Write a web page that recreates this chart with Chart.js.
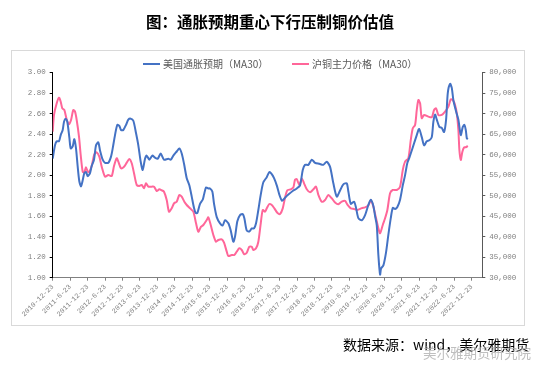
<!DOCTYPE html>
<html><head><meta charset="utf-8">
<script src="https://cdn.jsdelivr.net/npm/chart.js@4.4.0/dist/chart.umd.min.js"></script>
<style>
html,body{margin:0;padding:0;background:#fff;}
#wrap{position:relative;width:545px;height:379px;overflow:hidden;}
#title{position:absolute;left:0;width:540px;top:10px;text-align:center;font-family:"Noto Sans CJK SC";font-weight:bold;font-size:15.5px;color:#000;line-height:22px;}
#frame{position:absolute;left:11px;top:50px;width:514px;height:276px;border:1px solid #d9d9d9;box-sizing:border-box;}
canvas{position:absolute;left:0;top:0;}
.lg{position:absolute;top:57px;font-family:"Noto Sans CJK SC";font-size:10px;color:#595959;line-height:14px;white-space:nowrap;}
.lg i{display:inline-block;width:17px;height:2px;vertical-align:middle;margin-right:3px;position:relative;top:-1px;}
#src{position:absolute;left:343px;top:334px;font-family:"Noto Sans CJK SC";font-size:14px;color:#000;line-height:20px;white-space:nowrap;}
#wm{position:absolute;left:423px;top:343px;font-family:"Noto Sans CJK SC";font-size:13.5px;color:rgba(170,170,170,0.75);line-height:18px;white-space:nowrap;}
</style></head>
<body><div id="wrap">
<div id="frame"></div>
<canvas id="c" width="545" height="379"></canvas>
<div id="title">图：通胀预期重心下行压制铜价估值</div>
<div class="lg" id="lg1" style="left:143px"><i></i><span></span></div>
<div class="lg" id="lg2" style="left:292px"><i></i><span></span></div>
<div id="src">数据来源：wind，美尔雅期货</div>
<div id="wm">美尔雅期货研究院</div>
</div>
<script>
const tickLabels = ['2010-12-23','2011-6-23','2011-12-23','2012-6-23','2012-12-23','2013-6-23','2013-12-23','2014-6-23','2014-12-23','2015-6-23','2015-12-23','2016-6-23','2016-12-23','2017-6-23','2017-12-23','2018-6-23','2018-12-23','2019-6-23','2019-12-23','2020-6-23','2020-12-23','2021-6-23','2021-12-23','2022-6-23','2022-12-23'];
const seriesNames = ['美国通胀预期（MA30）','沪铜主力价格（MA30）'];
// months elapsed since 2010-12-23
const blueMonths = [0,0.79,1.38,2.17,2.75,3.44,3.89,4.47,5.02,5.71,6.19,6.88,7.43,8.01,8.6,9.15,9.73,10.32,10.87,11.45,12.04,12.83,13.41,14.2,14.89,15.68,16.27,17.19,17.99,19.12,20.05,20.63,21.42,22.21,22.9,23.49,24.28,25.21,26,26.82,27.72,28.64,29.44,30.26,30.95,31.74,32.32,33.22,34.25,35.18,36.11,37.14,38.27,39.75,40.58,41.47,42.64,43.54,44.36,45.15,46.08,46.97,47.8,48.59,49.17,49.72,50.65,51.58,52.03,52.72,53.51,54.09,54.88,55.47,56.4,57.53,58.46,59.25,60.39,61.21,62.11,62.69,63.48,64.41,65.34,65.89,66.71,67.61,68.43,69.22,69.91,70.7,71.53,72.42,73.59,74.48,75.31,76.1,77.03,77.92,78.85,79.88,81.02,82.74,83.91,85.04,85.97,86.76,87.9,89.07,90.2,91.68,93.05,94.22,95.36,96.49,97.66,98.8,99.93,101.1,101.65,102.48,103.61,104.3,105.09,106.26,107.4,108.53,109.36,110.25,110.84,111.42,111.97,112.56,112.9,113.69,114.62,115.41,116.23,116.92,117.71,118.5,119.43,120.36,121.15,121.94,122.63,123.45,124.25,125.17,125.97,126.89,127.68,128.61,129.51,130.33,130.88,131.47,132.05,132.94,133.77,134.56,135.25,135.83,136.62,137.21,137.76,138.69,139.48,140.3,140.99,141.54,142.02,142.37,142.71];
const blueValues = [2.16,2.29,2.33,2.33,2.39,2.44,2.52,2.55,2.52,2.37,2.26,2.28,2.35,2.26,2.08,1.94,1.89,1.95,2.02,2.03,1.99,2.02,2.09,2.15,2.29,2.32,2.24,2.15,2.12,2.12,2.18,2.26,2.39,2.49,2.48,2.44,2.44,2.49,2.54,2.55,2.53,2.41,2.29,2.13,2.05,2.16,2.19,2.15,2.19,2.17,2.16,2.21,2.15,2.16,2.15,2.19,2.23,2.26,2.21,2.11,1.97,1.9,1.79,1.68,1.63,1.63,1.72,1.76,1.81,1.88,1.87,1.87,1.84,1.72,1.59,1.53,1.51,1.56,1.53,1.46,1.35,1.4,1.55,1.61,1.62,1.58,1.46,1.45,1.48,1.48,1.53,1.66,1.81,1.93,1.98,2.03,2.01,1.97,1.9,1.81,1.75,1.78,1.81,1.85,1.87,1.9,2.05,2.1,2.1,2.15,2.12,2.11,2.1,2.13,2.08,1.92,1.79,1.85,1.91,1.92,1.84,1.72,1.74,1.68,1.58,1.56,1.61,1.71,1.76,1.7,1.6,1.51,1.22,1.03,1.09,1.12,1.25,1.42,1.58,1.68,1.67,1.69,1.76,1.9,2,2.12,2.17,2.24,2.31,2.39,2.45,2.37,2.29,2.33,2.34,2.37,2.52,2.59,2.54,2.47,2.46,2.42,2.54,2.8,2.89,2.85,2.73,2.62,2.54,2.39,2.47,2.49,2.44,2.36,2.35];
const copperMonths = [0,0.45,1.38,2.17,2.75,3.3,3.99,4.81,5.61,6.3,7.08,7.67,8.25,9.04,9.63,10.32,10.87,11.45,12.04,12.59,13.41,14.31,15.13,16.03,16.85,17.99,19.12,20.29,21.08,22.01,22.56,23.49,24.52,25.45,26.34,27.17,27.96,28.89,29.78,30.61,31.4,32.08,32.88,34.04,34.84,35.76,36.66,37.48,38.27,39.2,39.99,40.92,41.71,42.64,43.54,44.36,45.26,46.08,47.22,48.35,49.28,50.07,51,51.79,52.96,53.51,54.33,55.23,56.16,56.95,58.12,58.91,59.84,60.39,61.56,62.45,63.27,64.17,64.99,65.89,66.71,67.61,68.43,68.98,69.91,70.7,71.53,72.22,73.01,73.59,74.48,75.31,76.2,77.23,78.16,79.09,79.88,80.67,81.84,82.74,83.32,83.91,84.8,85.63,86.42,87.35,88.48,89.62,90.54,91.33,92.5,93.64,94.77,95.94,97.08,98.21,99.38,100.52,101.31,102.48,103.61,104.75,106.26,107.4,108.53,109.36,110.25,111.18,111.97,112.56,113.48,114.27,115.06,115.99,116.92,118.29,119.43,120.36,121.15,122.28,123.11,123.8,124.59,125.17,125.72,126.31,126.89,127.68,129.16,130.33,131.12,131.81,132.6,133.77,134.9,136.04,136.86,137.55,138.34,138.93,139.48,139.82,140.3,140.85,141.44,142.02,142.71];
const copperValues = [65580,69650,72500,73870,72890,71280,70870,68600,67380,68430,70870,70450,68430,64360,59900,55830,55670,56900,55830,55830,57220,60070,60560,59490,57050,54610,55030,54780,57220,59100,58270,56660,57050,58030,58930,57880,55440,52590,52350,52590,51790,53000,52180,52180,52180,51130,51540,51300,50960,48940,46090,46910,48130,48520,50150,49740,48520,47720,46910,46090,43260,41210,42430,42840,44060,44720,42840,40410,38770,39190,39360,38530,36340,35290,35530,35530,36340,37160,36750,35700,36090,37550,37550,36750,37160,38770,43260,46500,46090,46910,47960,47720,46910,45840,45520,46900,49500,51300,51540,52000,53900,54000,52600,54200,53000,51540,50800,51540,52180,50200,48520,48940,50150,49350,48330,47900,48520,48700,47800,46910,46740,46500,46950,47150,47600,48850,47300,44470,42040,40820,42840,44470,46500,50570,51370,51370,52180,56250,58270,59100,63560,66410,67210,70870,73310,72500,68850,69650,69240,69090,70870,71280,69650,69650,70450,71670,73470,73310,72090,70060,66000,61120,58680,60700,61780,61780,62100];
const colors = ['#4472C4','#FF6699'];

const tickFont = {family:'Liberation Mono', size:7.5};
const chart = new Chart(document.getElementById('c'), {
  type:'line',
  data:{datasets:[
    {label:seriesNames[0], data:blueMonths.map((m,i)=>({x:m,y:blueValues[i]})), yAxisID:'y',
     borderColor:colors[0], backgroundColor:colors[0], borderWidth:2, pointRadius:0, tension:0.25, fill:false},
    {label:seriesNames[1], data:copperMonths.map((m,i)=>({x:m,y:copperValues[i]})), yAxisID:'y1',
     borderColor:colors[1], backgroundColor:colors[1], borderWidth:2, pointRadius:0, tension:0.25, fill:false}
  ]},
  options:{
    responsive:false, animation:false, devicePixelRatio:1,
    layout:{padding:{top:72.5,left:0,right:0,bottom:0}},
    plugins:{legend:{display:false}, tooltip:{enabled:false}},
    scales:{
      x:{type:'linear', position:'bottom', min:0, max:147.7,
        afterBuildTicks:s=>{s.ticks = tickLabels.map((_,i)=>({value:i*6}));},
        afterFit:s=>{s.height = 101.3;},
        ticks:{autoSkip:false, minRotation:45, maxRotation:45, padding:2, color:'#808080', font:{family:'Liberation Mono', size:7},
          callback:(v)=>tickLabels[Math.round(v/6)]},
        grid:{drawOnChartArea:false, drawTicks:true, tickLength:3, color:'#808080'},
        border:{display:true, color:'#808080', width:1}},
      y:{position:'left', min:1, max:3,
        afterFit:s=>{s.width = 52.7;},
        ticks:{stepSize:0.2, padding:4, color:'#808080', font:tickFont, callback:v=>Number(v).toFixed(2)},
        grid:{drawOnChartArea:false, drawTicks:true, tickLength:3, color:'#000'},
        border:{display:true, color:'#000', width:1}},
      y1:{position:'right', min:30000, max:80000,
        afterFit:s=>{s.width = 62.7;},
        ticks:{stepSize:5000, padding:4, color:'#808080', font:tickFont, callback:v=>Number(v).toLocaleString('en-US')},
        grid:{drawOnChartArea:false, drawTicks:true, tickLength:3, color:'#595959'},
        border:{display:true, color:'#595959', width:1}}
    }
  }
});
// HTML legend built from the chart's datasets
chart.data.datasets.forEach((ds,i)=>{
  const el = document.getElementById('lg'+(i+1));
  el.querySelector('i').style.background = ds.borderColor;
  el.querySelector('span').textContent = ds.label;
});
</script>
</body></html>
